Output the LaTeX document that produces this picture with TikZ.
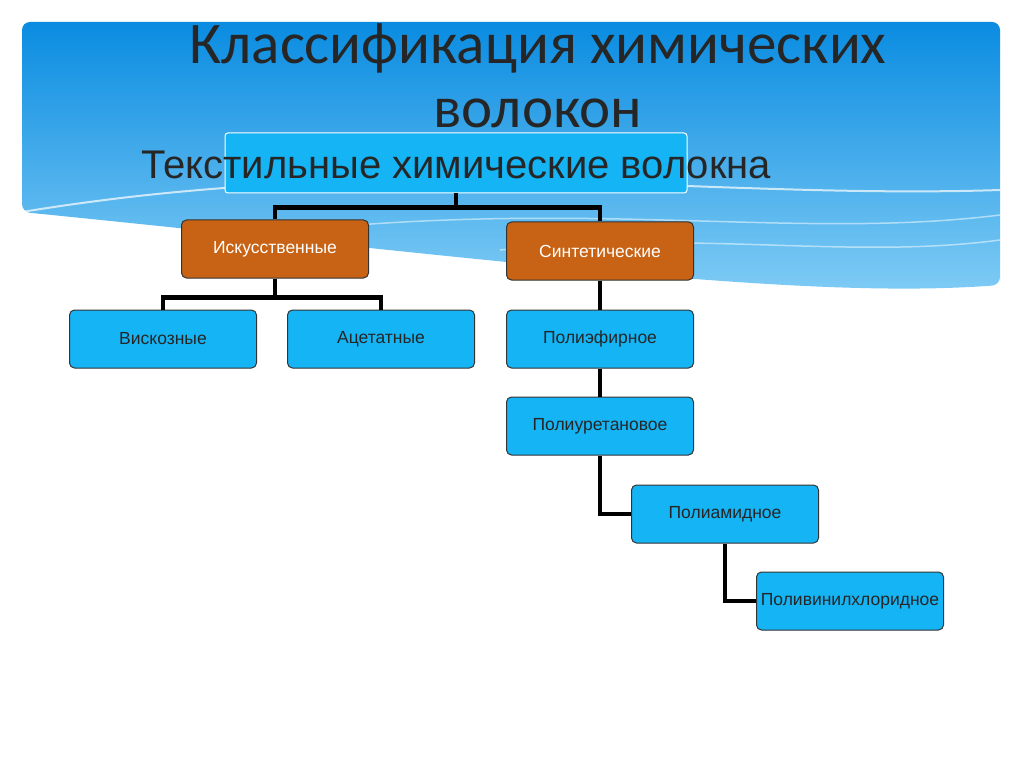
\documentclass[tikz,border=0pt]{standalone}
\usepackage{fontspec}
\setmainfont{Carlito}
\setsansfont{Liberation Sans}
\definecolor{boxblue}{RGB}{20,180,245}
\definecolor{boxorange}{RGB}{200,98,20}
\definecolor{bandtop}{RGB}{10,140,225}
\definecolor{bandbot}{RGB}{130,205,245}
\begin{document}
\begin{tikzpicture}[x=1pt,y=-1pt,
  bx/.style={draw=black!80,line width=1pt,rounded corners=5pt,fill=boxblue,minimum width=187pt,minimum height=58pt,inner sep=1pt,font=\sffamily\fontsize{17.5}{20}\selectfont,text=black!85},
  ox/.style={bx,fill=boxorange,text=white},
  con/.style={line width=4.5pt,black}]
\useasboundingbox (0,0) rectangle (1024,767);
\fill[white] (0,0) rectangle (1024,767);
\shade[top color=bandtop,bottom color=bandbot,rounded corners=8pt]
  (22,22) -- (1000,22) -- (1000,285) -- (1000,285) .. controls (800,300) and (500,260) .. (22,212) -- cycle;
\draw[white,line width=2pt,opacity=0.7] (22,212) .. controls (400,150) and (700,200) .. (1000,190);
\draw[white,line width=1.5pt,opacity=0.5] (300,230) .. controls (600,200) and (800,240) .. (1000,215);
\draw[white,line width=1.5pt,opacity=0.5] (500,250) .. controls (700,230) and (850,260) .. (1000,240);
\node[font=\fontsize{59}{64}\selectfont,text=black!85,align=center] (title) at (538,76) {Классификация химических\\волокон};
\node[draw=white,line width=1pt,rounded corners=3pt,fill=boxblue,minimum width=462pt,minimum height=60pt] (top) at (456,163) {};
\node[font=\sffamily\fontsize{40}{44}\selectfont,text=black!85] (toplbl) at (456,165) {Текстильные химические волокна};
\node[ox] (isk) at (275,249) {Искусственные};
\node[ox] (sin) at (600,251) {Синтетические};
\node[bx] (visk) at (163,339) {Вискозные};
\node[bx] (acet) at (381,339) {Ацетатные};
\node[bx] (pef) at (600,339) {Полиэфирное};
\node[bx] (pur) at (600,426) {Полиуретановое};
\node[bx] (pam) at (725,514) {Полиамидное};
\node[bx] (pvh) at (850,601) {Поливинилхлоридное};
\draw[con] (top.south) -- ++(0,14) -| (isk.north);
\draw[con] (top.south) ++(0,14) -| (sin.north);
\draw[con] (isk.south) -- ++(0,19) -| (visk.north);
\draw[con] (isk.south) ++(0,19) -| (acet.north);
\draw[con] (sin.south) -- (pef.north);
\draw[con] (pef.south) -- (pur.north);
\draw[con] (pur.south) |- (pam.west);
\draw[con] (pam.south) |- (pvh.west);
\end{tikzpicture}
\end{document}
